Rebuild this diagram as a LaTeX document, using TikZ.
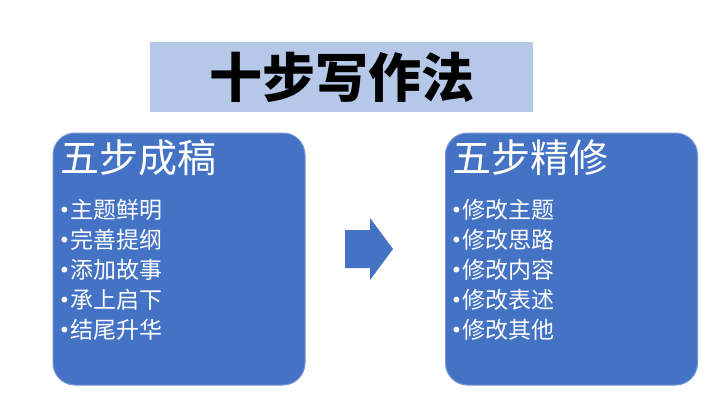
\documentclass[tikz,border=0pt]{standalone}
\usepackage{fontspec}
\setmainfont{Noto Sans CJK SC}
\newfontfamily\bulfont{DejaVu Sans}
\usepackage{xcolor}
\usepackage{tikz}
\usetikzlibrary{positioning}
\definecolor{boxblue}{RGB}{68,114,196}
\definecolor{titleblue}{RGB}{182,200,232}
\newcommand{\bul}{\makebox[12pt][l]{\hspace{0.5pt}\raisebox{1.5pt}{\bulfont\fontsize{20}{20}\selectfont •}}}
\tikzset{stepbox/.style={rectangle,rounded corners=22pt,fill=boxblue,draw=boxblue!75!white,line width=1pt,minimum width=252pt,minimum height=252pt,inner sep=0pt},
    head/.style={text=white,font=\fontsize{39}{40}\selectfont,inner sep=0pt,anchor=base west},
    item/.style={text=white,font=\fontsize{23}{30}\selectfont,inner sep=0pt,anchor=base west}}

\begin{document}
\begin{tikzpicture}[x=1pt,y=-1pt]
    \useasboundingbox (0,0) rectangle (720,405);
    \node[fill=titleblue,minimum width=383pt,minimum height=70pt,inner sep=0pt] (title) at (341.5,77) {\bfseries\fontsize{53}{56}\selectfont 十步写作法};

    \node[stepbox] (draft) at (179,259) {};
    \node[stepbox] (polish) at (571.5,259) {};

    % left box
    \node[head] (drafthead) at (60,172) {五步成稿};
    \node[item] (d1) at (58,218.5) {\bul 主题鲜明};
    \node[item,below=30pt of d1.base west,anchor=base west] (d2) {\bul 完善提纲};
    \node[item,below=30pt of d2.base west,anchor=base west] (d3) {\bul 添加故事};
    \node[item,below=30pt of d3.base west,anchor=base west] (d4) {\bul 承上启下};
    \node[item,below=30pt of d4.base west,anchor=base west] (d5) {\bul 结尾升华};

    % right box
    \node[head] (polishhead) at (452,172) {五步精修};
    \node[item] (p1) at (450,218.5) {\bul 修改主题};
    \node[item,below=30pt of p1.base west,anchor=base west] (p2) {\bul 修改思路};
    \node[item,below=30pt of p2.base west,anchor=base west] (p3) {\bul 修改内容};
    \node[item,below=30pt of p3.base west,anchor=base west] (p4) {\bul 修改表述};
    \node[item,below=30pt of p4.base west,anchor=base west] (p5) {\bul 修改其他};

    \fill[boxblue] (345,230) -- (370,230) -- (370,218) -- (393,249) -- (370,280) -- (370,268) -- (345,268) -- cycle;
\end{tikzpicture}
\end{document}
